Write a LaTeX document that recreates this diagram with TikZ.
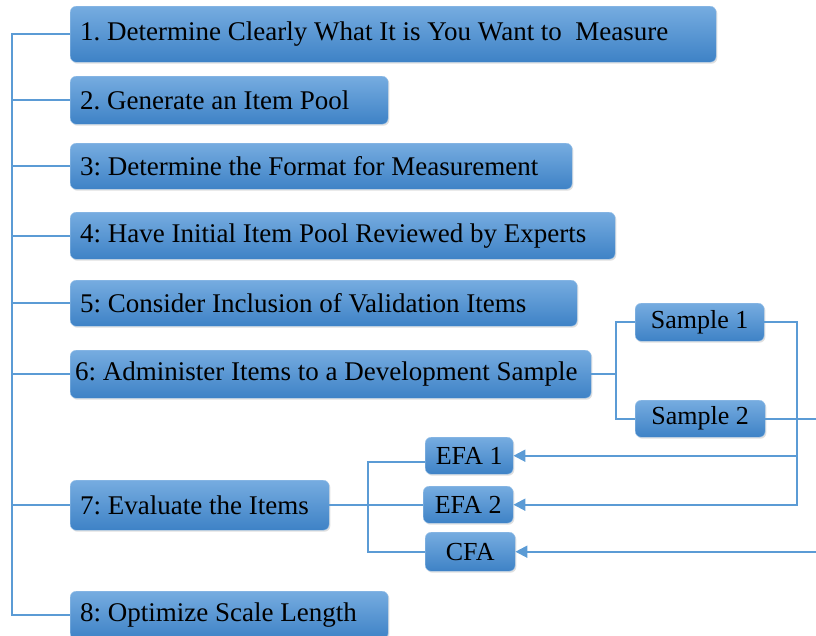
\documentclass[tikz,border=0pt]{standalone}
\usepackage{fontspec}
\setmainfont{Liberation Serif}
\usetikzlibrary{arrows.meta, positioning, shadows}
\definecolor{boxtop}{RGB}{118,172,224}
\definecolor{boxbot}{RGB}{62,130,198}
\definecolor{linkblue}{RGB}{91,155,213}
\tikzstyle{stage} = [rectangle, rounded corners=6pt, anchor=north west, top color=boxtop, bottom color=boxbot, draw=boxtop!70!white, line width=0.4pt, inner xsep=10pt, inner ysep=1pt, align=flush left, font=\fontsize{27}{30}\selectfont\frenchspacing, drop shadow={shadow xshift=1.2pt, shadow yshift=-1.5pt, opacity=0.25}]
\tikzstyle{subbox} = [stage, align=center, inner xsep=2pt, font=\fontsize{26}{30}\selectfont]
\tikzstyle{link} = [draw=linkblue, line width=2pt]
\tikzstyle{arrow} = [link, -{Triangle[length=12pt, width=12pt]}]

\begin{document}
\begin{tikzpicture}[x=1pt, y=-1pt]
\useasboundingbox (0,0) rectangle (816,635);

% main steps
\node[stage, text width=626pt, minimum height=56pt] (s1) at (70,6) {1. Determine Clearly What It is You Want to\ \ Measure};
\node[stage, text width=298pt, minimum height=48pt] (s2) at (70,76) {2. Generate an Item Pool};
\node[stage, text width=482pt, minimum height=46pt] (s3) at (70,143) {3: Determine the Format for Measurement};
\node[stage, text width=525pt, minimum height=47pt] (s4) at (70,212) {4: Have Initial Item Pool Reviewed by Experts};
\node[stage, text width=487pt, minimum height=46pt] (s5) at (70,280) {5: Consider Inclusion of Validation Items};
\node[stage, inner xsep=5pt, text width=511pt, minimum height=48pt] (s6) at (70,350) {6: Administer Items to a Development Sample};
\node[stage, text width=239pt, minimum height=50pt] (s7) at (70,480) {7: Evaluate the Items};
\node[stage, text width=298pt, minimum height=48pt] (s8) at (70,591) {8: Optimize Scale Length};

% samples and analyses
\node[subbox, minimum width=129pt, minimum height=38pt] (samp1) at (635,303) {Sample 1};
\node[subbox, minimum width=130pt, minimum height=37pt] (samp2) at (635,400) {Sample 2};
\node[subbox, minimum width=88pt, minimum height=37pt] (efa1) at (425,437) {EFA 1};
\node[subbox, minimum width=90pt, minimum height=37pt] (efa2) at (423,486) {EFA 2};
\node[subbox, minimum width=90pt, minimum height=39pt] (cfa) at (425,532) {CFA};

\coordinate (trunk) at (12,0);
\coordinate (fork) at (616,0);
\coordinate (efork) at (368,0);
\coordinate (rjoin) at (797,0);
\coordinate (redge) at (826,0);

\draw[link] (s1.west) -- (s1.west -| trunk) -- (s8.west -| trunk) -- (s8.west);
\foreach \i in {2,...,7}
  \draw[link] (s\i.west -| trunk) -- (s\i.west);

\draw[link] (s6.east) -- (s6.east -| fork) |- (samp1.west);
\draw[link] (s6.east -| fork) |- (samp2.west);

\draw[link] (s7.east) -- (s7.east -| efa2.west);
\draw[link] ([yshift=-6pt]efa1.west) -- ([yshift=-6pt]efa1.west -| efork) |- (cfa.west);

\draw[arrow] (samp1.east) -- (samp1.east -| rjoin) |- (efa2.east);
\draw[arrow] (efa1.east -| rjoin) -- (efa1.east);
\draw[arrow] (samp2.east) -- (samp2.east -| redge) |- (cfa.east);

\end{tikzpicture}
\end{document}
